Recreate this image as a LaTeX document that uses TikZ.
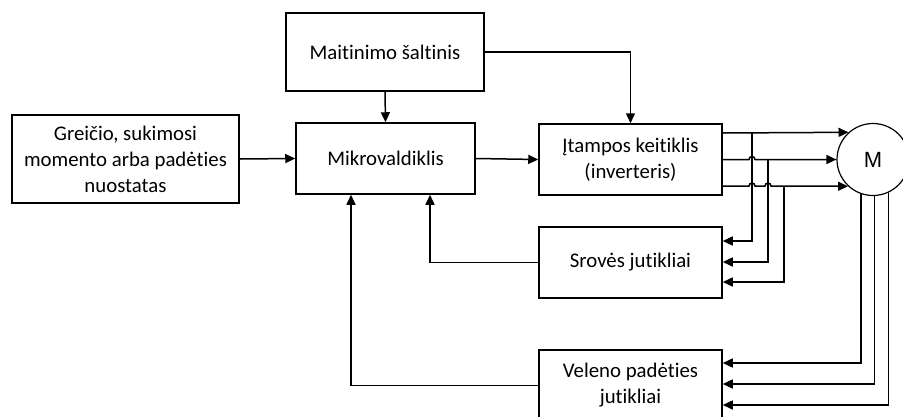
\documentclass[tikz,border=0pt]{standalone}
\usepackage{fontspec}
\setmainfont{Carlito}[Ligatures=CommonOff]
\newfontfamily\mfont{Liberation Sans}
\usetikzlibrary{arrows.meta}
\begin{document}
\begin{tikzpicture}[x=1pt,y=-1pt,
  box/.style={draw, line width=1.5pt, align=center, inner sep=0pt,
    font=\fontsize{20.8}{26}\selectfont},
  arr/.style={line width=1.5pt, -{Triangle[length=10pt,width=9pt]}}]
\useasboundingbox (0,0) rectangle (903,416);
\node[box, minimum width=198pt, minimum height=78pt] (maitin) at (385,52) {Maitinimo šaltinis};
\node[box, minimum width=227pt, minimum height=88pt] (greit) at (125.5,159) {Greičio, sukimosi\\momento arba padėties\\nuostatas};
\node[box, minimum width=179pt, minimum height=71pt] (mikro) at (385.5,158.5) {Mikrovaldiklis};
\node[box, minimum width=183pt, minimum height=71pt] (itamp) at (630.5,159.5) {Įtampos keitiklis\\(inverteris)};
\node[box, minimum width=183pt, minimum height=71pt] (srov) at (630.5,262.5) {Srovės jutikliai};
\node[box, minimum width=183pt, minimum height=71pt] (velen) at (630.5,385.5) {Veleno padėties\\jutikliai};
\node[box, circle, minimum size=72pt, line width=1.2pt, font=\fontsize{22}{26}\mfont] (M) at (873,159.5) {M};

% top connections
\draw[arr] (maitin.south) -- (mikro.north);
\draw[arr] (maitin.east) -| (itamp.north);
\draw[arr] (greit.east) -- (mikro.west);
\draw[arr] (mikro.east) -- (itamp.west);

% phase lines to motor
\draw[arr] (itamp.east |- 0,133) -- (M.132.6);
\draw[arr] (itamp.east) -- (749,159.5) arc[start angle=180,end angle=360,radius=3] -- (M.west);
\draw[arr] (itamp.east |- 0,186) -- (749,186) arc[start angle=180,end angle=360,radius=3]
  -- (765,186) arc[start angle=180,end angle=360,radius=3] -- (M.227.4);

% current sensor taps
\coordinate (ta) at (752,133);
\coordinate (tb) at (768,159.5);
\coordinate (tc) at (784,186);
\draw[arr] (ta) |- (srov.east |- 0,241);
\draw[arr] (tb) |- (srov.east |- 0,262);
\draw[arr] (tc) |- (srov.east |- 0,282);

% shaft sensor lines
\draw[arr] (M.-109.5) |- (velen.east |- 0,363);
\draw[arr] (M.-88.4) |- (velen.east |- 0,384);
\draw[arr] (M.-65.4) |- (velen.east |- 0,405);

% feedback
\draw[arr] (srov.west) -| (430,0 |- mikro.south);
\draw[arr] (velen.west) -| (351,0 |- mikro.south);
\end{tikzpicture}
\end{document}
